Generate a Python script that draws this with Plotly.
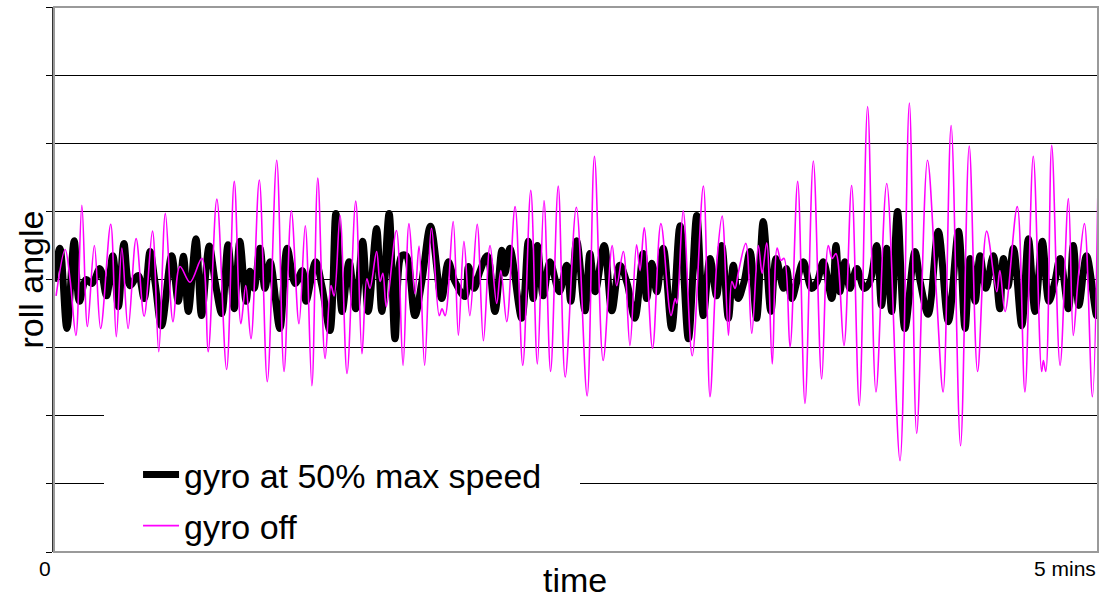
import plotly.graph_objects as go

# ---- data (time in seconds, roll angle in grid units) ----
off_t = [0.6, 3.2, 4.6, 6.3, 8.0, 9.6, 11.6, 13.4, 16.3, 17.9, 19.5, 21.3, 23.6, 25.9, 28.3, 30.1,
         32.0, 34.2, 36.2, 39.1, 42.5, 44.3, 46.8, 49.6, 51.8, 53.7, 55.1, 56.6, 59.0, 61.3, 64.0,
         66.1, 68.2, 70.4, 72.2, 74.1, 75.8, 77.9, 79.6, 80.5, 82.2, 84.2, 86.7, 88.5, 89.9, 90.8,
         92.7, 93.7, 94.5, 95.5, 98.4, 100.3, 102.0, 103.7, 104.9, 106.5, 108.5, 110.7, 111.5,
         112.4, 114.7, 116.2, 117.8, 119.5, 121.6, 123.4, 125.3, 127.2, 128.4, 130.1, 132.5,
         134.7, 137.0, 138.9, 140.8, 142.7, 144.9, 146.9, 150.1, 153.2, 155.3, 157.8, 160.4,
         161.7, 163.6, 165.5, 167.4, 168.4, 169.6, 172.0, 174.4, 177.3, 178.5, 179.0, 180.8,
         183.4, 186.6, 188.5, 190.4, 192.0, 193.8, 194.8, 195.7, 196.6, 198.8, 200.5, 202.4,
         203.5, 204.8, 206.4, 207.8, 208.9, 209.8, 211.5, 213.7, 215.8, 218.2, 220.6, 222.5,
         223.6, 224.7, 227.0, 229.2, 231.4, 233.8, 236.2, 239.3, 243.1, 245.8, 247.9, 251.0,
         253.6, 255.5, 257.8, 260.5, 263.0, 265.4, 268.0, 270.9, 271.8, 273.3, 276.8, 279.0,
         281.4, 283.8, 284.3, 285.0, 286.7, 289.1, 291.5, 292.9, 294.2, 296.1, 298.4, 300.0]
off_v = [-0.24, 0.44, 0.01, -0.82, 1.09, -0.69, 0.50, -0.72, 0.81, -0.84, 0.46, -0.72, 0.60, -0.54,
         0.71, -1.06, 0.97, -0.62, 0.19, -0.04, 0.31, -1.06, 1.18, -1.32, 1.44, -0.65, -0.09, -0.87,
         1.46, -1.50, 1.75, -1.35, 1.01, -0.65, 0.79, -1.56, 1.49, -1.16, -0.09, -0.24, 0.94, -1.38,
         1.15, -1.09, 0.01, -0.13, 0.41, -0.03, 0.09, -0.40, 0.72, -1.26, 0.82, -0.21, 0.49, -1.26,
         0.75, -0.53, -0.43, -0.53, 0.85, -0.82, 0.56, -0.53, 0.81, -0.90, 0.50, -0.35, 0.13, -0.62,
         1.07, -1.26, 1.31, -1.24, 1.16, -1.35, 1.37, -1.43, 1.06, -1.71, 1.81, -1.19, 0.50, -0.09,
         0.41, -0.97, 0.51, 0.13, 0.76, -1.01, 0.82, -0.53, -0.28, -0.35, 1.01, -1.12, 1.37, -1.72,
         0.21, 0.93, -0.82, -0.03, -0.13, 0.09, 0.53, -0.79, 0.50, 0.09, 0.54, -1.24, 0.46, 0.28,
         0.31, -0.99, 1.44, -1.82, 1.74, -1.46, 0.50, 0.31, 0.38, -0.97, 1.38, -1.85, 2.54, -1.65,
         1.41, -2.66, 2.59, -2.26, 1.75, -0.24, -1.65, 2.26, -2.44, 1.96, -1.35, 0.71, -0.18, 0.13,
         -0.47, 1.07, -1.65, 1.81, -1.35, -1.19, -1.35, 1.97, -1.26, 1.19, -0.82, -0.05, 0.82,
         -1.72, 1.44]

on_t = [0.0, 1.7, 3.7, 5.8, 7.3, 9.2, 10.9, 13.2, 15.1, 16.9, 18.5, 20.1, 21.8, 24.2, 25.9, 27.6,
        29.0, 30.9, 33.8, 35.7, 37.2, 38.6, 40.8, 42.4, 44.6, 46.3, 48.2, 50.0, 51.8, 53.4, 55.2,
        56.3, 57.5, 59.2, 60.6, 62.1, 64.9, 67.0, 69.3, 71.4, 72.4, 75.2, 77.0, 79.3, 81.0, 82.8,
        84.8, 86.7, 88.7, 90.3, 92.7, 94.2, 96.3, 98.0, 99.9, 101.2, 103.7, 105.7, 108.2, 111.4,
        113.3, 115.2, 118.1, 119.1, 120.7, 122.4, 124.5, 126.7, 128.7, 129.6, 131.0, 134.4,
        136.3, 137.7, 138.9, 140.6, 142.5, 145.2, 147.3, 148.5, 150.2, 152.6, 154.0, 155.5,
        158.1, 160.3, 162.6, 164.7, 166.9, 169.3, 170.3, 171.8, 173.2, 175.1, 177.5, 179.9,
        182.3, 184.7, 186.6, 188.5, 190.4, 191.9, 193.8, 195.2, 196.6, 198.3, 200.0, 201.9,
        203.8, 206.0, 207.5, 209.6, 210.5, 212.0, 213.5, 215.3, 217.7, 219.3, 221.1, 223.5,
        224.7, 225.8, 227.3, 228.7, 230.7, 232.8, 234.5, 236.4, 237.8, 239.3, 240.7, 242.4,
        244.5, 247.4, 248.9, 251.2, 254.1, 257.0, 259.9, 261.8, 263.2, 264.7, 266.1, 267.8,
        269.9, 271.8, 272.8, 274.1, 275.7, 278.1, 280.0, 281.9, 284.0, 285.9, 287.6, 289.1,
        291.5, 292.9, 294.5, 296.7, 299.6, 300.0]
on_v = [-0.03, 0.46, -0.72, 0.57, -0.32, 0.00, -0.06, 0.16, -0.24, 0.35, -0.40, 0.53, -0.09, 0.06,
        -0.28, 0.41, -0.03, -0.68, 0.35, -0.32, 0.34, -0.47, 0.60, -0.53, 0.49, -0.03, -0.50, 0.51,
        -0.43, 0.56, -0.32, 0.12, -0.13, 0.46, -0.13, 0.26, -0.72, 0.46, -0.06, 0.13, -0.32, 0.26,
        -0.10, -0.75, 0.97, -0.47, 0.26, -0.43, 0.56, -0.47, 0.75, -0.47, 0.97, -0.87, 0.35, 0.35,
        -0.53, -0.03, 0.78, -0.28, 0.26, -0.03, -0.25, 0.19, -0.13, 0.12, 0.35, -0.47, 0.43, 0.09,
        0.46, -0.57, 0.56, -0.28, 0.50, -0.24, 0.26, -0.18, 0.21, -0.32, 0.57, -0.46, 0.38, -0.18,
        0.50, -0.46, 0.21, -0.06, -0.57, 0.38, -0.28, 0.24, -0.18, 0.46, -0.72, 0.79, -0.87, 0.94,
        -0.53, 0.31, -0.24, 0.50, -0.57, 0.21, -0.28, -0.03, 0.41, -0.57, 0.85, -0.47, 0.31, -0.13,
        0.16, -0.28, -0.03, 0.26, -0.13, -0.03, 0.26, -0.28, 0.50, -0.18, 0.26, -0.13, 0.16, -0.13,
        -0.03, 0.50, -0.38, 0.46, -0.47, 1.00, -0.72, 0.41, -0.03, -0.51, 0.71, -0.62, 0.71, -0.72,
        0.31, -0.32, 0.35, -0.13, 0.35, -0.43, 0.31, -0.10, 0.46, -0.68, 0.60, -0.47, 0.56, -0.32,
        -0.03, 0.31, -0.43, 0.50, -0.38, 0.35, -0.53, -0.13]

y_ticks = [-4, -3, -2, -1, 0, 1, 2, 3, 4]
x_labels = ["0", "5 mins"]

FONT = "Liberation Sans, Arial, sans-serif"
BIG = 34

fig = go.Figure()
fig.add_trace(go.Scatter(x=on_t, y=on_v, mode="lines", name="gyro at 50% max speed",
                         legend="legend",
                         line=dict(color="#000000", width=7, shape="spline", smoothing=1.0)))
fig.add_trace(go.Scatter(x=off_t, y=off_v, mode="lines", name="gyro off",
                         legend="legend2",
                         line=dict(color="#FF00FF", width=1.6, shape="spline", smoothing=1.0)))

leg_common = dict(xanchor="left", yanchor="middle", bgcolor="rgba(0,0,0,0)", borderwidth=0,
                  font=dict(family=FONT, size=BIG, color="black"), itemwidth=36)

fig.update_layout(
    width=1104, height=601,
    margin=dict(l=54, r=6, t=7, b=49),
    paper_bgcolor="white", plot_bgcolor="white",
    font=dict(family=FONT, color="black"),
    showlegend=True,
    legend=dict(x=0.0805, y=(552 - 475) / 545, **leg_common),
    legend2=dict(x=0.0805, y=(552 - 526) / 545, **leg_common),
    xaxis=dict(range=[0, 300], showgrid=False, zeroline=False, showticklabels=False,
               ticks="", showline=False),
    yaxis=dict(range=[-4, 4], tickvals=y_ticks, showticklabels=False,
               showgrid=True, gridcolor="#000000", gridwidth=1, zeroline=False,
               ticks="outside", ticklen=6, tickcolor="#000000", tickwidth=1,
               showline=True, linecolor="#333333", linewidth=2),
    shapes=[
        dict(type="rect", xref="paper", yref="paper",
             x0=(104 - 54) / 1044, x1=(580 - 54) / 1044, y0=(552 - 547) / 545, y1=(552 - 405) / 545,
             line=dict(width=0), fillcolor="white", layer="above"),
        dict(type="rect", xref="paper", yref="paper", x0=0, x1=1, y0=0, y1=1,
             line=dict(color="#9a9a9a", width=2), layer="above"),
    ],
    annotations=[
        dict(text=x_labels[0], xref="paper", yref="paper", x=-0.0086, y=0, yshift=-16,
             showarrow=False, xanchor="center", yanchor="middle",
             font=dict(family=FONT, size=21, color="black")),
        dict(text=x_labels[1], xref="paper", yref="paper", x=1.0, y=0, yshift=-16,
             showarrow=False, xanchor="right", yanchor="middle",
             font=dict(family=FONT, size=21, color="black")),
        dict(text="time", xref="paper", yref="paper", x=0.499, y=0, yshift=-28,
             showarrow=False, xanchor="center", yanchor="middle",
             font=dict(family=FONT, size=BIG, color="black")),
        dict(text="roll angle", xref="paper", yref="paper", x=0, xshift=-24, y=0.5,
             showarrow=False, textangle=-90, xanchor="center", yanchor="middle",
             font=dict(family=FONT, size=BIG, color="black")),
    ],
)

fig.write_html("out.html", config={"displayModeBar": False},
               post_script="document.body.style.margin='0';document.body.style.overflow='hidden';")
